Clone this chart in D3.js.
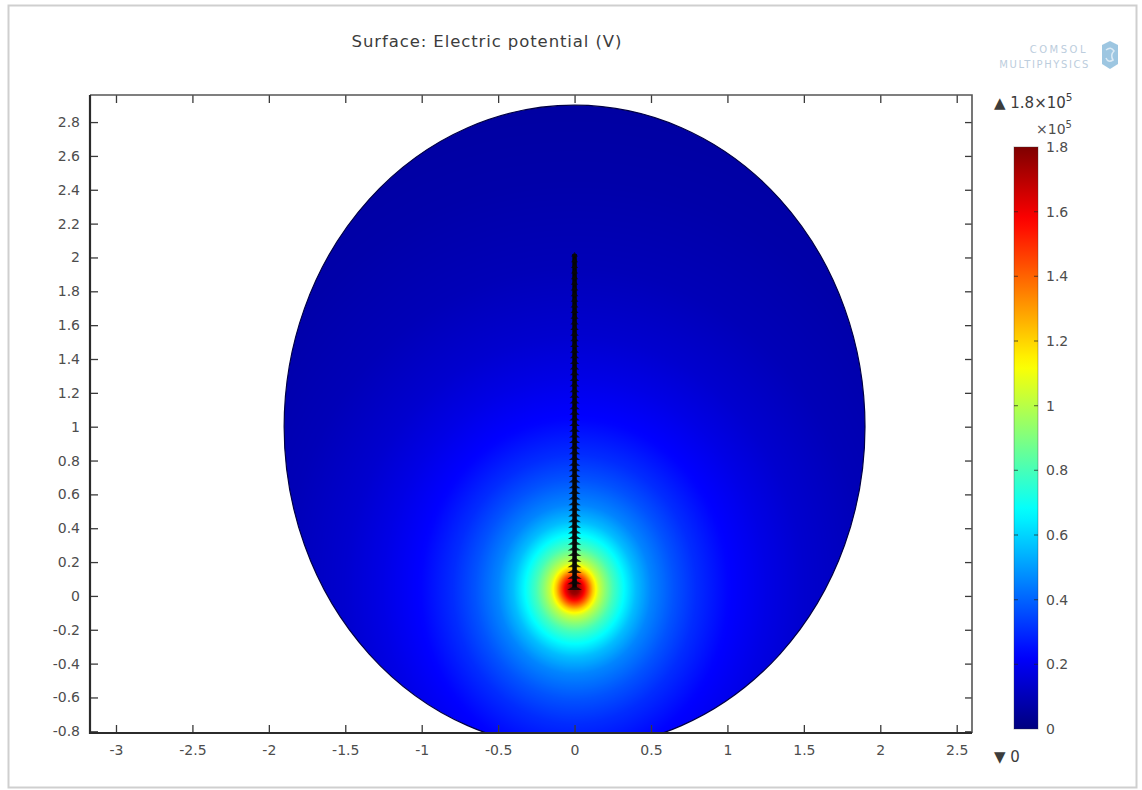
<!DOCTYPE html>
<html>
<head>
<meta charset="utf-8">
<script src="https://cdn.jsdelivr.net/npm/d3@7"></script>
<style>
  body { margin: 0; background: #fff; }
  text { font-family: "DejaVu Sans", sans-serif; }
</style>
</head>
<body>
<div id="chart"></div>
<script>
// ---- values ----
const xTicks = [-3, -2.5, -2, -1.5, -1, -0.5, 0, 0.5, 1, 1.5, 2, 2.5];
const yTicks = [-0.8, -0.6, -0.4, -0.2, 0, 0.2, 0.4, 0.6, 0.8, 1, 1.2, 1.4, 1.6, 1.8, 2, 2.2, 2.4, 2.6, 2.8];
const colorTicks = [0, 0.2, 0.4, 0.6, 0.8, 1, 1.2, 1.4, 1.6, 1.8];   // x10^5 V
const xDomain = [-3.17, 2.6];
const yDomain = [-0.81, 2.96];

// the modelled domain: a disc of radius 1.9 centred at (0, 1)
const domainCentre = [0, 1];
const domainRadius = 1.9;

// potential falls off around the source point (radial profile, x10^5 V)
const sourcePoint = [0, 0.04];
const radialDist = [0, 0.03, 0.06, 0.09, 0.12, 0.16, 0.2, 0.25, 0.32, 0.4, 0.5, 0.65, 0.8, 1.0, 1.25, 1.5, 1.9, 2.4, 2.9];
const potential  = [1.8, 1.75, 1.6, 1.42, 1.22, 1.03, 0.92, 0.8, 0.68, 0.56, 0.46, 0.37, 0.3, 0.23, 0.18, 0.14, 0.1, 0.075, 0.06];

// arrow line along the rod
const lineStart = [0, 0.05];
const lineEnd = [0, 2.02];
const arrowCount = 60;

// rainbow colour table (fraction of range -> colour)
const jetT = [0, 0.125, 0.375, 0.625, 0.875, 1];
const jetC = ["#00007f", "#0000ff", "#00ffff", "#ffff00", "#ff0000", "#7f0000"];

// ---- layout ----
const W = 1142, H = 790;
const plot = {left: 90, right: 972, top: 95, bottom: 733};

const svg = d3.select("#chart").append("svg")
    .attr("width", W)
    .attr("height", H)
    .attr("viewBox", `0 0 ${W} ${H}`);

const defs = svg.append("defs");

// outer frame of the figure
svg.append("rect")
    .attr("x", 8.5).attr("y", 5.5)
    .attr("width", 1128).attr("height", 782)
    .attr("fill", "#fff")
    .attr("stroke", "#cfcfcf")
    .attr("stroke-width", 2);

const x = d3.scaleLinear().domain(xDomain).range([plot.left, plot.right]);
const y = d3.scaleLinear().domain(yDomain).range([plot.bottom, plot.top]);
const jet = d3.scaleLinear().domain(jetT).range(jetC).interpolate(d3.interpolateRgb);
const vMax = d3.max(colorTicks);
const profile = d3.scaleLinear().domain(radialDist).range(potential).clamp(true);

const kx = x(1) - x(0);
const ky = y(0) - y(1);

// ---- surface: radial gradient built from the profile ----
const rMax = d3.max(radialDist);
const grad = defs.append("radialGradient")
    .attr("id", "field")
    .attr("gradientUnits", "userSpaceOnUse")
    .attr("cx", 0).attr("cy", 0).attr("r", rMax * ky)
    .attr("gradientTransform", `translate(${x(sourcePoint[0])},${y(sourcePoint[1])}) scale(${kx / ky},1)`);

grad.selectAll("stop")
    .data(d3.range(0, rMax + 0.0001, 0.005))
    .join("stop")
        .attr("offset", d => d / rMax)
        .attr("stop-color", d => jet(profile(d) / vMax));

defs.append("clipPath").attr("id", "plotClip")
  .append("rect")
    .attr("x", plot.left).attr("y", plot.top)
    .attr("width", plot.right - plot.left)
    .attr("height", plot.bottom - plot.top);

const surface = svg.append("g").attr("clip-path", "url(#plotClip)");

surface.append("ellipse")
    .attr("cx", x(domainCentre[0]))
    .attr("cy", y(domainCentre[1]))
    .attr("rx", domainRadius * kx)
    .attr("ry", domainRadius * ky)
    .attr("fill", "url(#field)")
    .attr("stroke", "#000045")
    .attr("stroke-width", 1.2);

// arrow line
surface.append("line")
    .attr("x1", x(lineStart[0])).attr("y1", y(lineStart[1]))
    .attr("x2", x(lineEnd[0])).attr("y2", y(lineEnd[1]))
    .attr("stroke", "#050505")
    .attr("stroke-width", 4.5);

const arrowPos = d3.range(arrowCount).map(i => lineStart[1] + (lineEnd[1] - lineStart[1]) * i / (arrowCount - 1));
const arrowWidth = d3.scaleLinear().domain([0, 0.6, 2.02]).range([7.5, 6, 3.5]);

surface.append("g")
    .selectAll("path")
    .data(arrowPos)
    .join("path")
        .attr("transform", d => `translate(${x(0)},${y(d)})`)
        .attr("d", d => {
            const w = arrowWidth(d);
            return `M${-w},2.5L0,-2L${w},2.5Z`;
        })
        .attr("fill", "#080808")
        .attr("fill-opacity", 0.8);

// ---- axes ----
const fmt = d => String(+d.toFixed(1));
const tickColor = "#3a3a3a";

const styleAxis = g => {
    g.select(".domain").remove();
    g.selectAll(".tick line").attr("stroke", tickColor).attr("stroke-width", 1.3);
    g.selectAll(".tick text")
        .attr("fill", "#4d4d4d")
        .style("font-size", "14px")
        .style("font-family", "'DejaVu Sans', sans-serif");
};

svg.append("g")
    .attr("transform", `translate(${plot.left},0)`)
    .call(d3.axisLeft(y).tickValues(yTicks).tickFormat(fmt).tickSize(-8).tickPadding(10))
    .call(styleAxis);

svg.append("g")
    .attr("transform", `translate(${plot.right},0)`)
    .call(d3.axisRight(y).tickValues(yTicks).tickFormat("").tickSize(-7))
    .call(styleAxis);

svg.append("g")
    .attr("transform", `translate(0,${plot.bottom})`)
    .call(d3.axisBottom(x).tickValues(xTicks).tickFormat(fmt).tickSize(-8).tickPadding(12))
    .call(styleAxis);

svg.append("g")
    .attr("transform", `translate(0,${plot.top})`)
    .call(d3.axisTop(x).tickValues(xTicks).tickFormat("").tickSize(-8))
    .call(styleAxis);

// plot frame
svg.append("path")
    .attr("d", `M${plot.left},${plot.top}H${plot.right}V${plot.bottom}`)
    .attr("fill", "none")
    .attr("stroke", "#555")
    .attr("stroke-width", 1.6);
svg.append("path")
    .attr("d", `M${plot.left},${plot.top}V${plot.bottom}H${plot.right}`)
    .attr("fill", "none")
    .attr("stroke", "#2b2b2b")
    .attr("stroke-width", 2.2);

// ---- title ----
svg.append("text")
    .attr("x", 487).attr("y", 47)
    .attr("text-anchor", "middle")
    .attr("fill", "#3c3c3c")
    .style("font-size", "16.5px")
    .style("letter-spacing", "0.9px")
    .text("Surface: Electric potential (V)");

// ---- logo ----
const logo = svg.append("g").attr("fill", "#bccddd");
logo.append("text")
    .attr("x", 1088).attr("y", 53)
    .attr("text-anchor", "end")
    .style("font-size", "10px")
    .style("letter-spacing", "2.5px")
    .text("COMSOL");
logo.append("text")
    .attr("x", 1090).attr("y", 68)
    .attr("text-anchor", "end")
    .style("font-size", "10px")
    .style("letter-spacing", "1.6px")
    .text("MULTIPHYSICS");
logo.append("path")
    .attr("d", "M1102,45 L1110,41 L1118,45 L1118,64 L1110,69 L1102,64 Z")
    .attr("fill", "#8cbcdc")
    .attr("opacity", 0.85);
logo.append("path")
    .attr("d", "M1106,50 Q1111,46 1114,51 Q1110,55 1113,60 Q1108,63 1106,58")
    .attr("fill", "none")
    .attr("stroke", "#dbeaf5")
    .attr("stroke-width", 1.5);

// ---- colour legend ----
const bar = {x: 1014, w: 24, top: 147, bottom: 729};
const yc = d3.scaleLinear().domain([0, vMax]).range([bar.bottom, bar.top]);

const lg = defs.append("linearGradient")
    .attr("id", "jetBar")
    .attr("x1", 0).attr("y1", 1).attr("x2", 0).attr("y2", 0);
lg.selectAll("stop")
    .data(d3.range(0, 1.0001, 0.02))
    .join("stop")
        .attr("offset", d => d)
        .attr("stop-color", d => jet(d));

svg.append("rect")
    .attr("x", bar.x).attr("y", bar.top)
    .attr("width", bar.w).attr("height", bar.bottom - bar.top)
    .attr("fill", "url(#jetBar)")
    .attr("stroke", "#333")
    .attr("stroke-opacity", 0.35)
    .attr("stroke-width", 1);

// small tick marks inside the bar
const barTicks = svg.append("g").attr("stroke", "#222").attr("stroke-opacity", 0.55).attr("stroke-width", 1.3);
barTicks.selectAll("line.l")
    .data(colorTicks.slice(1, -1))
    .join("line")
        .attr("class", "l")
        .attr("x1", bar.x).attr("x2", bar.x + 4)
        .attr("y1", d => yc(d)).attr("y2", d => yc(d));
barTicks.selectAll("line.r")
    .data(colorTicks.slice(1, -1))
    .join("line")
        .attr("class", "r")
        .attr("x1", bar.x + bar.w - 4).attr("x2", bar.x + bar.w)
        .attr("y1", d => yc(d)).attr("y2", d => yc(d));

svg.append("g")
    .attr("transform", `translate(${bar.x + bar.w},0)`)
    .call(d3.axisRight(yc).tickValues(colorTicks).tickFormat(fmt).tickSize(0).tickPadding(8))
    .call(styleAxis);

// max / min annotations
const maxNote = svg.append("text")
    .attr("x", 994).attr("y", 108)
    .attr("fill", "#3c3c3c")
    .style("font-size", "15px");
maxNote.append("tspan").text("\u25B2 " + fmt(vMax) + "\u00D710");
maxNote.append("tspan").attr("dy", -7).style("font-size", "10.5px").text("5");

const unitNote = svg.append("text")
    .attr("x", 1036).attr("y", 134)
    .attr("fill", "#4d4d4d")
    .style("font-size", "14px");
unitNote.append("tspan").text("\u00D710");
unitNote.append("tspan").attr("dy", -6).style("font-size", "10px").text("5");

svg.append("text")
    .attr("x", 994).attr("y", 762)
    .attr("fill", "#3c3c3c")
    .style("font-size", "15px")
    .text("\u25BC " + fmt(d3.min(colorTicks)));
</script>
</body>
</html>
